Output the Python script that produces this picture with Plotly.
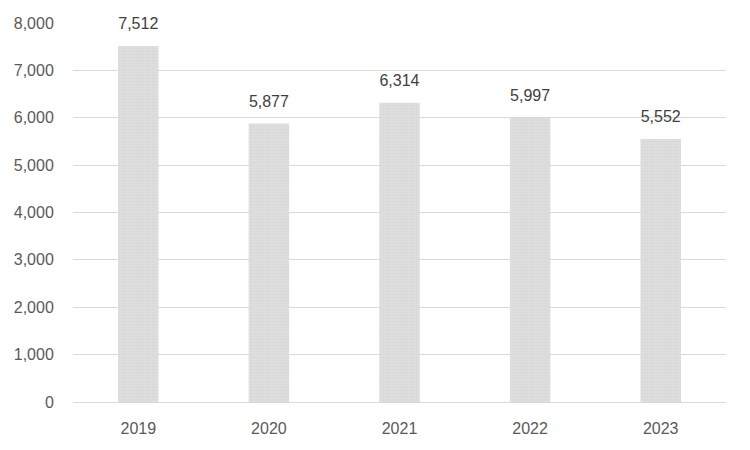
import plotly.graph_objects as go

years = ["2019", "2020", "2021", "2022", "2023"]
values = [7512, 5877, 6314, 5997, 5552]
y_ticks = [0, 1000, 2000, 3000, 4000, 5000, 6000, 7000, 8000]
y_tick_labels = ["0", "1,000", "2,000", "3,000", "4,000", "5,000", "6,000", "7,000", "8,000"]

fig = go.Figure()
fig.add_trace(go.Bar(
    x=years, y=values,
    marker=dict(color="#d9d9d9", line=dict(width=0),
                pattern=dict(shape=".", fgcolor="#cfcfcf", bgcolor="#e0e0e0", size=3, solidity=0.5)),
))
fig.add_trace(go.Scatter(
    x=years, y=values, mode="text",
    text=[f"{v:,}<br> <br> " for v in values],
    textposition="middle center",
    textfont=dict(size=16, color="#404040"),
    cliponaxis=False, hoverinfo="skip",
))

fig.update_layout(
    width=750, height=450,
    margin=dict(l=65, r=32, t=15, b=56),
    plot_bgcolor="white", paper_bgcolor="white",
    bargap=0.69,
    showlegend=False,
    font=dict(family="Liberation Sans, Arial, sans-serif", size=15, color="#595959"),
)
fig.update_xaxes(type="category", automargin=False, showgrid=False, showline=False,
                 ticks="outside", ticklen=12, tickcolor="rgba(0,0,0,0)",
                 tickfont=dict(size=16, color="#595959"))
fig.update_yaxes(range=[0, 8000], tickvals=y_ticks, ticktext=y_tick_labels, automargin=False,
                 showgrid=True, gridcolor="#d9d9d9", gridwidth=1,
                 zeroline=True, zerolinecolor="#d9d9d9", zerolinewidth=1,
                 showline=False, ticks="outside", ticklen=15, tickcolor="rgba(0,0,0,0)",
                 tickfont=dict(size=16, color="#595959"))

fig.write_html("out.html")
